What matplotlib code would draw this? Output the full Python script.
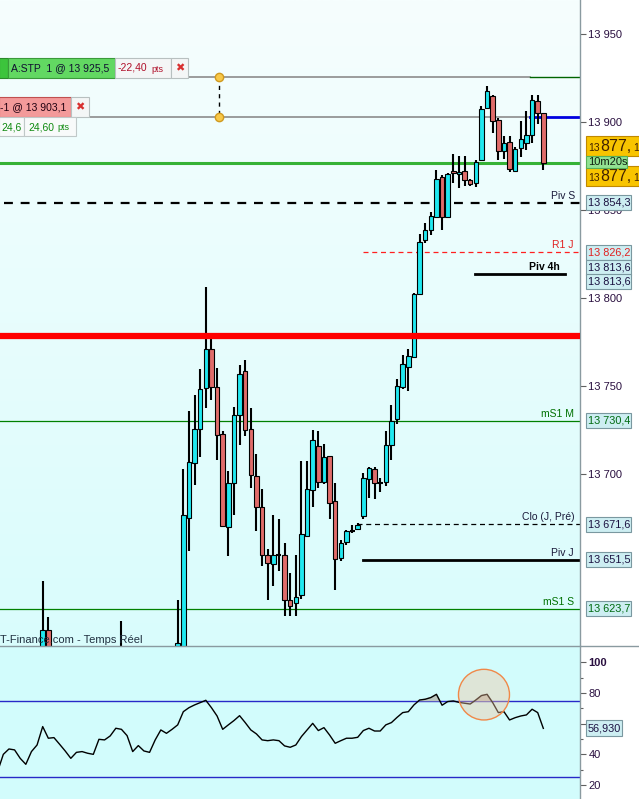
import numpy as np
import matplotlib
matplotlib.use("Agg")
import matplotlib.pyplot as plt
from matplotlib import transforms
from matplotlib.patches import Rectangle, Ellipse
from matplotlib.colors import LinearSegmentedColormap
from matplotlib.lines import Line2D

plt.rcParams['font.family'] = ['Liberation Sans', 'DejaVu Sans']

nan = np.nan

# candles (one per bar, left to right), prices
# nan = bar below the visible range
opens = [nan]*8 + [13590, 13611.5] + [nan]*12 + [13590] + [nan]*9 + [
    13598, 13596, 13675.5, 13706.5, 13726, 13749, 13771.5, 13749.5, 13723, 13670,
    13695, 13734, 13759, 13726, 13699, 13681.5, 13654.5, 13649, 13654.5, 13654,
    13628.5, 13627, 13631.5, 13665, 13691, 13716, 13696, 13710.5, 13685, 13652.5,
    13661.5, 13668, 13669, 13676.5, 13697.5, 13703, 13695, 13695.5, 13716.5, 13731.5,
    13749.5, 13761, 13767, 13802.5, 13833, 13839, 13846, 13869, 13846.5, 13872.5,
    13870.5, 13872.5, 13867.5, 13865.5, 13878.5, 13908, 13915, 13901.5, 13883.5, 13889,
    13872.5, 13885.5, 13888.5, 13893, 13912, 13905.5]
highs = [nan]*8 + [13639.5, 13619] + [nan]*12 + [13617] + [nan]*9 + [
    13628.5, 13703, 13736, 13745, 13760, 13806.5, 13777.5, 13760.5, 13724.5, 13702,
    13738.5, 13762, 13765, 13738, 13711.5, 13692, 13657.5, 13677, 13674.5, 13661,
    13644, 13654.5, 13707.5, 13707.5, 13725.5, 13724.5, 13717.5, 13710.5, 13695, 13663,
    13668.5, 13671.5, 13672.5, 13701, 13704, 13704, 13698, 13724.5, 13739.5, 13754.5,
    13768, 13771.5, 13803, 13836.5, 13843, 13849, 13873, 13870, 13871, 13882,
    13881, 13881, 13868, 13878.5, 13909.5, 13920.5, 13915.5, 13902.5, 13892, 13892,
    13886, 13900.5, 13906.5, 13915.5, 13915.5, 13905.5]
lows = [nan]*8 + [13585, 13590] + [nan]*12 + [13585] + [nan]*9 + [
    13592, 13594, 13656.5, 13694, 13710, 13738, 13742.5, 13708, 13670.5, 13653.5,
    13677, 13716.5, 13722, 13692.5, 13668, 13648, 13628.5, 13636.5, 13645, 13619.5,
    13619.5, 13619.5, 13629.5, 13664.5, 13681.5, 13692.5, 13694.5, 13675, 13634.5, 13651,
    13660, 13667, 13668.5, 13675, 13686.5, 13686, 13690, 13693.5, 13708.5, 13728.5,
    13748.5, 13747.5, 13766.5, 13802, 13831.5, 13836, 13846, 13839, 13845.5, 13865.5,
    13862.5, 13864, 13864, 13863.5, 13878.5, 13907.5, 13894, 13878.5, 13879, 13871.5,
    13872.5, 13880.5, 13884, 13888, 13899, 13873]
closes = [nan]*8 + [13611.5, 13595] + [nan]*12 + [13598] + [nan]*9 + [
    13604.5, 13677, 13707, 13726, 13748.5, 13771.5, 13749.5, 13722.5, 13670.5, 13695,
    13734, 13757, 13725.5, 13699.5, 13681.5, 13654.5, 13649.5, 13654.5, 13654.5, 13628.5,
    13625.5, 13630.5, 13666, 13691.5, 13719.5, 13696, 13710, 13684, 13652, 13661,
    13668, 13668, 13671.5, 13698, 13703.5, 13695, 13695, 13717, 13730.5, 13750.5,
    13762.5, 13767.5, 13802.5, 13832, 13839, 13847, 13868, 13846, 13870.5, 13871,
    13871.5, 13867, 13865, 13877.5, 13907.5, 13917.5, 13900.5, 13883.5, 13888.5, 13873.5,
    13885, 13890.5, 13893, 13912.5, 13905, 13877.1]

rsi = [29, 40.0, 43.5, 42.9, 37.4, 33.5, 41.8, 46.1, 58.1, 50.5,
       50.9, 46.6, 42.2, 37.4, 41.3, 41.8, 40.7, 40.0, 49.8, 49.4,
       52.0, 57.0, 56.3, 52.2, 41.8, 45.7, 42.2, 41.3, 49.4, 55.9,
       53.7, 56.3, 59.2, 67.8, 70.4, 72.2, 73.7, 75.2, 70.4, 65.0,
       56.3, 59.2, 62.0, 65.2, 60.7, 55.9, 53.3, 49.4, 48.9, 49.4,
       48.9, 45.5, 44.6, 46.1, 51.6, 55.9, 60.2, 55.5, 57.4, 52.6,
       47.2, 48.9, 50.5, 50.5, 51.1, 55.5, 57.0, 55.2, 55.2, 59.2,
       60.7, 64.1, 67.2, 67.8, 72.2, 75.4, 75.9, 77.0, 79.1, 72.0,
       74.4, 74.8, 73.9, 73.3, 72.8, 75.4, 78.3, 79.1, 73.7, 67.2,
       67.8, 62.4, 63.9, 65.0, 65.7, 69.4, 67.2, 56.93]

# levels
order_stp = 13925.5
order_lim = 13903.1
last_price = 13877.1
piv_s = 13854.3
r1_j = 13826.2
piv_4h = 13813.6
red_level = 13778.6
ms1_m = 13730.4
clo_j = 13671.6
piv_j = 13651.5
ms1_s = 13623.7

price_ticks = [13700, 13750, 13800, 13850, 13900, 13950]
rsi_ticks = [20, 40, 60, 80, 100]
rsi_tick_labels = ['20', '40', '', '80', '100']   # 60 sits under the value box
rsi_minor = [30, 50, 70, 90]
rsi_bands = [25, 75]


def fmt(v, dec=1):
    s = f"{v:,.{dec}f}"
    return s.replace(',', ' ').replace('.', ',')


W, H = 639, 799
SPLIT = 646
AXR = 580
fig = plt.figure(figsize=(W / 100, H / 100), dpi=100)
fig.patch.set_facecolor('white')
ax = fig.add_axes([0, (H - SPLIT) / H, AXR / W, SPLIT / H])
axr = fig.add_axes([0, 0, AXR / W, (H - SPLIT) / H])

o = np.array(opens, float)
hi = np.array(highs, float)
lo = np.array(lows, float)
c = np.array(closes, float)
k = np.arange(len(c))
x0, x1 = 0.41, 103.52

# background
grad = np.linspace(0, 1, 256).reshape(-1, 1)
bg = LinearSegmentedColormap.from_list('bg', ['#d9fcfc', '#f6fefe'])
ax.imshow(grad, extent=[0, 1, 0, 1], transform=ax.transAxes, aspect='auto',
          cmap=bg, origin='lower', zorder=0)
axr.set_facecolor('#d2fcfc')

ax.set_xlim(x0, x1)
ax.set_ylim(13602.6, 13969.45)
axr.set_xlim(x0, x1)
axr.set_ylim(10.9, 110.6)

trans = transforms.blended_transform_factory(ax.transAxes, ax.transData)

# level lines
ax.axhline(ms1_m, color='#008000', lw=0.9, zorder=1)
ax.axhline(ms1_s, color='#008000', lw=0.9, zorder=1)
ax.axhline(piv_s, xmin=4 / AXR, color='black', lw=1.6, ls=(0, (4, 3.5)), zorder=2)
ax.axhline(r1_j, xmin=363 / AXR, color='#ff2020', lw=0.9, ls=(0, (4, 3)), zorder=2)
ax.axhline(clo_j, xmin=357 / AXR, color='black', lw=0.9, ls=(0, (4, 3)), zorder=2)
ax.axhline(piv_j, xmin=363 / AXR, color='black', lw=2.0, zorder=2)
ax.axhline(piv_4h, xmin=475 / AXR, xmax=565 / AXR, color='black', lw=2.0, zorder=2)
ax.axhline(last_price, color='#36b236', lw=2.2, zorder=2)
ax.axhline(order_stp, xmin=188 / AXR, xmax=530 / AXR, color='#8c8c8c', lw=1.2, zorder=2)
ax.axhline(order_stp, xmin=530 / AXR, color='#006400', lw=1.0, zorder=2)
ax.axhline(order_lim, xmin=89 / AXR, xmax=530 / AXR, color='#8c8c8c', lw=1.2, zorder=2)
ax.axhline(order_lim, xmin=530 / AXR, color='#0000e0', lw=2.0, zorder=2)

# candles
valid = ~np.isnan(c)
doji = valid & (np.abs(c - o) < 0.3)
body = valid & ~doji
up = c >= o
ax.vlines(k[valid], lo[valid], hi[valid], color='black', lw=1.5, zorder=3)
ax.bar(k[body], np.maximum(np.abs(c - o), 0.9)[body], bottom=np.minimum(o, c)[body],
       width=0.8, color=np.where(up, '#20e8f0', '#e06c6a')[body],
       edgecolor='black', linewidth=0.8, zorder=4)
ax.hlines(c[doji], k[doji] - 0.45, k[doji] + 0.45, color='black', lw=1.5, zorder=4)

ax.axhline(red_level, color='#ff0000', lw=4.5, zorder=5)

# order connector
xc = 219 / AXR
ax.plot([xc, xc], [order_stp, order_lim], transform=trans, color='black',
        lw=1, ls=(0, (3, 3)), zorder=6)
ax.plot([xc, xc], [order_stp, order_lim], transform=trans, ls='none', marker='o',
        ms=6, mfc='#f8c848', mec='#d09a20', zorder=7)


# level captions
def cap(text, price, color, xr=575, bold=False):
    ax.annotate(text, (xr / AXR, price), xycoords=trans, xytext=(0, 1.5),
                textcoords='offset points', ha='right', va='bottom', fontsize=7.5,
                color=color, fontweight='bold' if bold else 'normal', zorder=8)


cap('Piv S', piv_s, '#1a1a3a')
cap('R1 J', r1_j, '#e02020', 574)
cap('Piv 4h', piv_4h, 'black', 560, bold=True)
cap('mS1 M', ms1_m, '#007000', 574)
cap('Clo (J, Pré)', clo_j, '#1a1a3a')
cap('Piv J', piv_j, '#1a1a3a', 574)
cap('mS1 S', ms1_s, '#007000', 574)

# price axis
for a in (ax, axr):
    a.set_xticks([])
    for s in ('top', 'left', 'bottom'):
        a.spines[s].set_visible(False)
    a.spines['right'].set_color('#8a9aa0')
    a.spines['right'].set_linewidth(1)
    a.yaxis.tick_right()
    a.tick_params(axis='y', which='both', direction='out', length=4, width=0.8,
                  color='#606060', labelsize=8, labelcolor='#2a1040', pad=2)
ax.set_yticks(price_ticks)
ax.set_yticklabels([fmt(v, 0) for v in price_ticks])

# RSI panel
r = np.array(rsi)
axr.fill_between(k, r, 75, where=r > 75, interpolate=True, color='#bcc6be', zorder=2)
for b in rsi_bands:
    axr.axhline(b, color='#2828c8', lw=1, zorder=1)
axr.plot(k, r, color='black', lw=1, zorder=4)
axr.add_patch(Ellipse((86.45, 78.9), 9.07, 33.0, facecolor=(0.95, 0.77, 0.63, 0.4),
                      edgecolor='#f08848', lw=1, zorder=5))
axr.set_yticks(rsi_ticks)
axr.set_yticks(rsi_minor, minor=True)
axr.set_yticklabels(rsi_tick_labels)
axr.get_yticklabels()[-1].set_fontweight('bold')
axr.tick_params(axis='y', which='minor', length=2)

fig.add_artist(Line2D([0, 1], [(H - SPLIT) / H] * 2, color='#8a9aa0', lw=1))


# overlay widgets in figure pixels (from top-left)
def rect(xa, ya, xb, yb, fc, ec, lw=0.8, z=5):
    fig.add_artist(Rectangle((xa / W, 1 - yb / H), (xb - xa) / W, (yb - ya) / H,
                             transform=fig.transFigure, facecolor=fc, edgecolor=ec,
                             lw=lw, zorder=z))


def ftext(x, y, s, ha='left', va='center', z=8, **kw):
    kw.setdefault('fontsize', 8)
    fig.text(x / W, 1 - y / H, s, ha=ha, va=va, zorder=z, **kw)


def ypx(a, v):
    return H - a.transData.transform((x0, v))[1]


def pbox(price, text, tc, dy=0.0):
    yc = ypx(ax, price) + dy
    rect(585.5, yc - 7.5, 631, yc + 7.5, '#cdeef2', '#7a98a0')
    ftext(588, yc, text, color=tc, fontsize=7.8)


pbox(piv_s, fmt(piv_s), '#1a1040')
pbox(r1_j, fmt(r1_j), '#e02020')
pbox(piv_4h, fmt(piv_4h), '#1a1040', -7.2)
pbox(piv_4h, fmt(piv_4h), '#1a1040', 6.9)
pbox(ms1_m, fmt(ms1_m), '#006a10')
pbox(clo_j, fmt(clo_j), '#1a1040')
pbox(piv_j, fmt(piv_j), '#1a1040')
pbox(ms1_s, fmt(ms1_s), '#006a10')

# last price boxes
yl = ypx(ax, last_price)
big = fmt(last_price)
for dy in (0, 30):
    rect(585.5, yl - 27 + dy, 641, yl - 6.3 + dy, '#f8c400', '#c08800', z=5)
    ftext(588.5, yl - 11.3 + dy, big[:2], va='baseline', fontsize=7.5, color='#402000', z=5.5)
    ftext(600.5, yl - 11.3 + dy, big[3:7], va='baseline', fontsize=11.5, color='#402000', z=5.5)
    ftext(633.5, yl - 11.3 + dy, big[7:], va='baseline', fontsize=7.5, color='#402000', z=5.5)
rect(585.5, yl - 6.3, 626.5, yl + 5.3, '#92e292', '#58b058', z=7)
ftext(588, yl - 0.5, '10m20s', fontsize=8, color='#102010', z=7.5)

# rsi value box
yr = ypx(axr, rsi[-1])
rect(585.5, yr - 8, 622, yr + 8, '#cdeef2', '#7a98a0')
ftext(588, yr, fmt(rsi[-1], 3), fontsize=7.8, color='#1a1040')

# order tickets (top-left)
rect(-1, 58, 7.5, 78, '#3cc43c', '#2a8a2a')
rect(7.5, 58, 115, 78, '#62d862', '#3a9a3a')
ftext(11, 68, 'A:STP  1 @ 13 925,5', color='#101030', fontsize=7.5)
rect(115, 58, 171, 78, '#f4f6f6', '#b8c0c0')
ftext(118, 68, '-22,40', color='#b0102a', fontsize=7.5)
ftext(151, 69, 'pts', color='#b0102a', fontsize=6.5)
rect(171, 58, 188, 78, '#f4f6f6', '#b8c0c0')
ftext(179.5, 68, '✖', ha='center', color='#d83030', fontsize=8)

rect(-1, 97, 71, 117, '#f39a9a', '#c05050')
ftext(0.5, 107, '-1 @ 13 903,1', color='#200010', fontsize=7.5)
rect(71, 97, 89, 117, '#f4f6f6', '#b8c0c0')
ftext(80, 107, '✖', ha='center', color='#d83030', fontsize=8)

rect(-1, 117, 24, 136, '#f8fafa', '#c0c8c8')
ftext(1, 127, '24,6', color='#108a10', fontsize=7.5)
rect(24, 117, 76, 136, '#f8fafa', '#c0c8c8')
ftext(28, 127, '24,60', color='#108a10', fontsize=7.5)
ftext(57, 128, 'pts', color='#108a10', fontsize=6.5)

ftext(0.5, 645, 'T-Finance.com - Temps Réel', va='bottom', color='#203040')

fig.savefig('out.png', dpi=100)
